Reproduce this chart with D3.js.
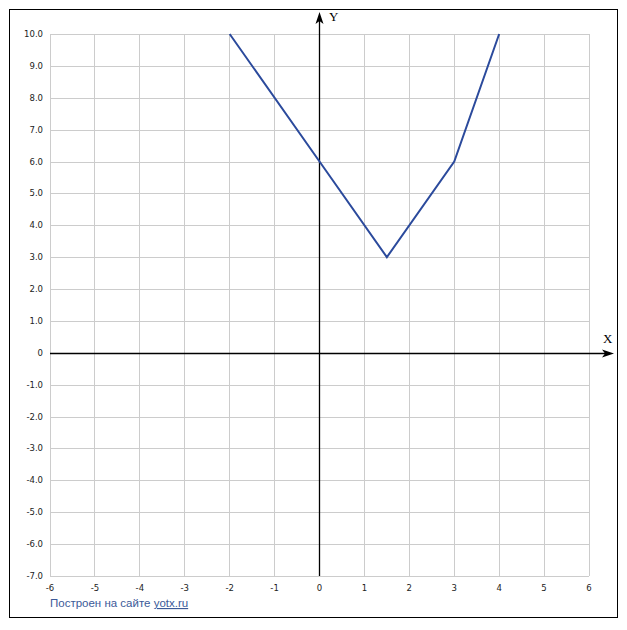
<!DOCTYPE html>
<html><head><meta charset="utf-8">
<script src="https://cdn.jsdelivr.net/npm/d3@7"></script>
<style>body{margin:0;background:#fff}</style>
</head><body>
<script>
const xTicks = [-6,-5,-4,-3,-2,-1,0,1,2,3,4,5,6];
const yTicks = [10,9,8,7,6,5,4,3,2,1,0,-1,-2,-3,-4,-5,-6,-7];
const px = [-2, 0, 1.5, 3, 4];
const py = [10, 6, 3, 6, 10];

const W = 627, H = 630;
const svg = d3.select("body").append("svg").attr("width", W).attr("height", H);
svg.append("rect").attr("x",9.5).attr("y",9.5).attr("width",608).attr("height",608)
  .attr("fill","#fff").attr("stroke","#000").attr("stroke-width",1);

const x = d3.scaleLinear().domain([-6,6]).range([50,589]);
const y = d3.scaleLinear().domain([-7,10]).range([576,34]);

const g = svg.append("g");
g.selectAll(".gx").data(xTicks).join("line")
  .attr("x1",d=>Math.floor(x(d))+0.5).attr("x2",d=>Math.floor(x(d))+0.5)
  .attr("y1",y(10)).attr("y2",y(-7)).attr("stroke","#cccccc");
g.selectAll(".gy").data(yTicks).join("line")
  .attr("y1",d=>Math.round(y(d))+0.5).attr("y2",d=>Math.round(y(d))+0.5)
  .attr("x1",x(-6)).attr("x2",x(6)).attr("stroke","#cccccc");

// axes
const x0 = Math.floor(x(0))+0.5, y0 = Math.round(y(0))+0.5;
svg.append("line").attr("x1",x0).attr("x2",x0).attr("y1",y(-7)).attr("y2",18).attr("stroke","#000").attr("stroke-width",1.3);
svg.append("path").attr("d",`M${x0},12 L${x0-4},24 L${x0},21 L${x0+4},24 Z`).attr("fill","#000");
svg.append("line").attr("y1",y0).attr("y2",y0).attr("x1",x(-6)).attr("x2",608).attr("stroke","#000").attr("stroke-width",1.3);
svg.append("path").attr("d",`M614,${y0} L602,${y0-4} L605,${y0} L602,${y0+4} Z`).attr("fill","#000");

svg.append("text").attr("x",329).attr("y",21).text("Y")
  .attr("font-family","Liberation Serif").attr("font-size",13).attr("fill","#000");
svg.append("text").attr("x",603).attr("y",343).text("X")
  .attr("font-family","Liberation Serif").attr("font-size",13).attr("fill","#000");

// tick labels
svg.selectAll(".ty").data(yTicks).join("text")
  .attr("x",43).attr("y",d=>y(d)+3).attr("text-anchor","end")
  .attr("font-family","DejaVu Sans").attr("font-size",8.5).attr("fill","#222")
  .text(d=>d===0?"0":d.toFixed(1));
svg.selectAll(".tx").data(xTicks).join("text")
  .attr("x",d=>x(d)).attr("y",591).attr("text-anchor","middle")
  .attr("font-family","DejaVu Sans").attr("font-size",8.5).attr("fill","#222")
  .text(d=>d);

// line
const pts = px.map((v,i)=>[v,py[i]]);
svg.append("path").datum(pts)
  .attr("d", d3.line().x(d=>x(d[0])).y(d=>y(d[1])))
  .attr("fill","none").attr("stroke","#2b4a9c").attr("stroke-width",2).attr("stroke-linejoin","miter");

// footer
const t = svg.append("text").attr("x",50).attr("y",607)
  .attr("font-family","Liberation Sans").attr("font-size",11.5).attr("fill","#3b5998");
t.append("tspan").text("Построен на сайте ");
t.append("tspan").text("yotx.ru").attr("text-decoration","underline");
</script>
</body></html>
